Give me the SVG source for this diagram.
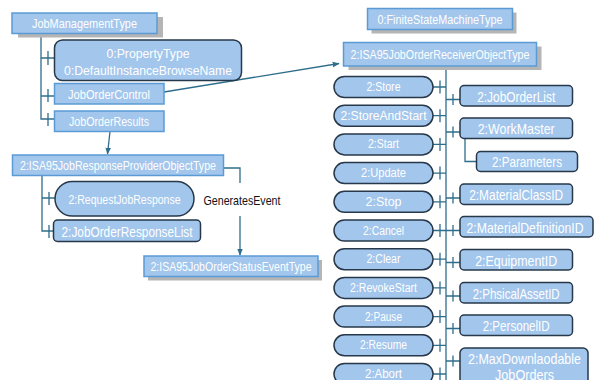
<svg xmlns="http://www.w3.org/2000/svg" width="602" height="380" viewBox="0 0 602 380">
<style>
  .bg{fill:#ffffff}
  .sq{fill:#a3c6ec;stroke:#5b9bd5;stroke-width:1.5}
  .rd{fill:#a3c6ec;stroke:#27384a;stroke-width:1.5}
  .sh{fill:#b5b5b5}
  .t{font-family:"Liberation Sans",Arial,sans-serif;fill:#ffffff;text-anchor:middle;dominant-baseline:central}
  .s13{font-size:13.5px}
  .s12{font-size:12.5px}
  .s15{font-size:15px}
  .ln{fill:none;stroke:#2f6d8c;stroke-width:1.3}
  .lbl{font-family:"Liberation Sans",Arial,sans-serif;font-size:13px;fill:#111111;text-anchor:middle;dominant-baseline:central}
</style>
<defs>
  <marker id="arr" viewBox="0 0 10 10" refX="9" refY="5" markerWidth="7" markerHeight="7" orient="auto" markerUnits="userSpaceOnUse">
    <path d="M0,1 L10,5 L0,9 Z" fill="#2f6d8c"/>
  </marker>
</defs>
<rect class="bg" x="0" y="0" width="602" height="380"/>

<!-- connectors and tree branches -->
<g id="connectors">
  <!-- JobManagementType tree -->
  <path class="ln" d="M41 33 V119 H54.5"/>
  <path class="ln" d="M41 58 H54.5 M48 51 V65"/>
  <path class="ln" d="M41 96 H54.5 M48 89 V102"/>
  <path class="ln" d="M48 113 V126"/>
  <!-- references -->
  <path class="ln" d="M164 92 L339 63.5" marker-end="url(#arr)"/>
  <path class="ln" d="M110 131.5 L107.5 154" marker-end="url(#arr)"/>
  <!-- response provider tree -->
  <path class="ln" d="M42 175.5 V231 H53.5"/>
  <path class="ln" d="M42 198 H55 M49 192 V205"/>
  <path class="ln" d="M49 225 V238"/>
  <!-- GeneratesEvent -->
  <path class="ln" d="M223.5 168 H240 V183"/>
  <path class="ln" d="M240 216 V255" marker-end="url(#arr)"/>
  <!-- receiver trunk -->
  <path class="ln" d="M446 66 V380"/>
  <!-- method ticks -->
  <path class="ln" d="M433 87 H446 M440 80.5 V93.5"/>
  <path class="ln" d="M433 115.7 H446 M440 109.2 V122.2"/>
  <path class="ln" d="M433 144.4 H446 M440 137.9 V150.9"/>
  <path class="ln" d="M433 173.1 H446 M440 166.6 V179.6"/>
  <path class="ln" d="M433 201.8 H446 M440 195.3 V208.3"/>
  <path class="ln" d="M433 230.5 H446 M440 224 V237"/>
  <path class="ln" d="M433 259.2 H446 M440 252.7 V265.7"/>
  <path class="ln" d="M433 287.9 H446 M440 281.4 V294.4"/>
  <path class="ln" d="M433 316.6 H446 M440 310.1 V323.1"/>
  <path class="ln" d="M433 345.3 H446 M440 338.8 V351.8"/>
  <path class="ln" d="M433 374 H446 M440 367.5 V380"/>
  <!-- property ticks -->
  <path class="ln" d="M446 99.5 H460 M453 94 V105"/>
  <path class="ln" d="M446 132 H460 M453 126.5 V137.5"/>
  <path class="ln" d="M465 138.5 V161.5 H476.5"/>
  <path class="ln" d="M446 198 H460 M453 192.5 V203.5"/>
  <path class="ln" d="M446 230.5 H460 M453 225 V236"/>
  <path class="ln" d="M446 262.5 H460 M453 257 V268"/>
  <path class="ln" d="M446 296 H460 M453 290.5 V301.5"/>
  <path class="ln" d="M446 328.5 H460 M453 323 V334"/>
  <path class="ln" d="M446 361 H460 M453 355.5 V366.5"/>
  <text class="lbl" x="242" y="200" textLength="77" lengthAdjust="spacingAndGlyphs">GeneratesEvent</text>
</g>

<!-- left side nodes -->
<g id="JobManagementType">
  <rect class="sh" x="18" y="17" width="145" height="20.5"/>
  <rect class="sq" x="12" y="13" width="145" height="20.5"/>
  <text class="t s13" x="84.5" y="23.5" textLength="105" lengthAdjust="spacingAndGlyphs">JobManagementType</text>
</g>
<g id="PropertyType">
  <rect class="rd" x="54.5" y="40" width="187" height="40.5" rx="8"/>
  <text class="t s13" x="148" y="53" textLength="83" lengthAdjust="spacingAndGlyphs">0:PropertyType</text>
  <text class="t s13" x="148" y="70" textLength="168" lengthAdjust="spacingAndGlyphs">0:DefaultInstanceBrowseName</text>
</g>
<g id="JobOrderControl">
  <rect class="sq" x="54.5" y="83.5" width="109.5" height="20.5"/>
  <text class="t s13" x="109" y="94" textLength="82" lengthAdjust="spacingAndGlyphs">JobOrderControl</text>
</g>
<g id="JobOrderResults">
  <rect class="sq" x="54.5" y="111" width="109.5" height="20.5"/>
  <text class="t s13" x="109" y="121.5" textLength="80" lengthAdjust="spacingAndGlyphs">JobOrderResults</text>
</g>
<g id="ResponseProvider">
  <rect class="sq" x="12.5" y="155" width="211" height="20.5"/>
  <text class="t s13" x="118" y="165.5" textLength="196" lengthAdjust="spacingAndGlyphs">2:ISA95JobResponseProviderObjectType</text>
</g>
<g id="RequestJobResponse">
  <rect class="rd" x="55" y="181.5" width="139" height="34.5" rx="17.25"/>
  <text class="t s13" x="124.5" y="199" textLength="112" lengthAdjust="spacingAndGlyphs">2:RequestJobResponse</text>
</g>
<g id="JobOrderResponseList">
  <rect class="rd" x="53.5" y="220" width="147" height="21.5" rx="4"/>
  <text class="t s15" x="127" y="231" textLength="131" lengthAdjust="spacingAndGlyphs">2:JobOrderResponseList</text>
</g>
<g id="StatusEventType">
  <rect class="sh" x="148" y="260" width="174" height="20.5"/>
  <rect class="sq" x="144" y="256" width="174" height="20.5"/>
  <text class="t s13" x="231" y="266.5" textLength="161" lengthAdjust="spacingAndGlyphs">2:ISA95JobOrderStatusEventType</text>
</g>

<!-- right side nodes -->
<g id="FiniteStateMachineType">
  <rect class="sh" x="371.5" y="12.5" width="145" height="21"/>
  <rect class="sq" x="367.5" y="8.5" width="145" height="21"/>
  <text class="t s13" x="440" y="19" textLength="125" lengthAdjust="spacingAndGlyphs">0:FiniteStateMachineType</text>
</g>
<g id="ReceiverObjectType">
  <rect class="sh" x="348.5" y="46.5" width="193" height="23.5"/>
  <rect class="sq" x="343.5" y="42.5" width="193" height="23.5"/>
  <text class="t s13" x="440" y="54.5" textLength="179" lengthAdjust="spacingAndGlyphs">2:ISA95JobOrderReceiverObjectType</text>
</g>

<g id="Store"><rect class="rd" x="334" y="76.5" width="99" height="21" rx="10.5"/><text class="t s12" x="383.5" y="87" textLength="34" lengthAdjust="spacingAndGlyphs">2:Store</text></g>
<g id="StoreAndStart"><rect class="rd" x="334" y="105.2" width="99" height="21" rx="10.5"/><text class="t s12" x="383.5" y="115.7" textLength="86" lengthAdjust="spacingAndGlyphs">2:StoreAndStart</text></g>
<g id="Start"><rect class="rd" x="334" y="133.9" width="99" height="21" rx="10.5"/><text class="t s12" x="383.5" y="144.4" textLength="31" lengthAdjust="spacingAndGlyphs">2:Start</text></g>
<g id="Update"><rect class="rd" x="334" y="162.6" width="99" height="21" rx="10.5"/><text class="t s12" x="383.5" y="173.1" textLength="45" lengthAdjust="spacingAndGlyphs">2:Update</text></g>
<g id="Stop"><rect class="rd" x="334" y="191.3" width="99" height="21" rx="10.5"/><text class="t s12" x="383.5" y="201.8" textLength="36" lengthAdjust="spacingAndGlyphs">2:Stop</text></g>
<g id="Cancel"><rect class="rd" x="334" y="220" width="99" height="21" rx="10.5"/><text class="t s12" x="383.5" y="230.5" textLength="41" lengthAdjust="spacingAndGlyphs">2:Cancel</text></g>
<g id="Clear"><rect class="rd" x="334" y="248.7" width="99" height="21" rx="10.5"/><text class="t s12" x="383.5" y="259.2" textLength="34" lengthAdjust="spacingAndGlyphs">2:Clear</text></g>
<g id="RevokeStart"><rect class="rd" x="334" y="277.4" width="99" height="21" rx="10.5"/><text class="t s12" x="383.5" y="287.9" textLength="67" lengthAdjust="spacingAndGlyphs">2:RevokeStart</text></g>
<g id="Pause"><rect class="rd" x="334" y="306.1" width="99" height="21" rx="10.5"/><text class="t s12" x="383.5" y="316.6" textLength="37" lengthAdjust="spacingAndGlyphs">2:Pause</text></g>
<g id="Resume"><rect class="rd" x="334" y="334.8" width="99" height="21" rx="10.5"/><text class="t s12" x="383.5" y="345.3" textLength="47" lengthAdjust="spacingAndGlyphs">2:Resume</text></g>
<g id="Abort"><rect class="rd" x="334" y="363.5" width="99" height="21" rx="10.5"/><text class="t s12" x="383.5" y="373.5" textLength="37" lengthAdjust="spacingAndGlyphs">2:Abort</text></g>

<g id="JobOrderList"><rect class="rd" x="460" y="85.5" width="112.5" height="20.5" rx="4"/><text class="t s15" x="516.2" y="96" textLength="78" lengthAdjust="spacingAndGlyphs">2:JobOrderList</text></g>
<g id="WorkMaster"><rect class="rd" x="460" y="118" width="112.5" height="20.5" rx="4"/><text class="t s15" x="516.2" y="128.5" textLength="77" lengthAdjust="spacingAndGlyphs">2:WorkMaster</text></g>
<g id="Parameters"><rect class="rd" x="476.5" y="151.5" width="101" height="20" rx="4"/><text class="t s15" x="527" y="161.5" textLength="70" lengthAdjust="spacingAndGlyphs">2:Parameters</text></g>
<g id="MaterialClassID"><rect class="rd" x="460" y="184" width="112.5" height="20.5" rx="4"/><text class="t s15" x="516.2" y="194.5" textLength="94" lengthAdjust="spacingAndGlyphs">2:MaterialClassID</text></g>
<g id="MaterialDefinitionID"><rect class="rd" x="460" y="216.5" width="133" height="20.5" rx="4"/><text class="t s15" x="525" y="227" textLength="117" lengthAdjust="spacingAndGlyphs">2:MaterialDefinitionID</text></g>
<g id="EquipmentID"><rect class="rd" x="460" y="249.5" width="112.5" height="20.5" rx="4"/><text class="t s15" x="516.2" y="260" textLength="82" lengthAdjust="spacingAndGlyphs">2:EquipmentID</text></g>
<g id="PhsicalAssetID"><rect class="rd" x="460" y="282.5" width="112.5" height="20.5" rx="4"/><text class="t s15" x="516.2" y="293" textLength="87" lengthAdjust="spacingAndGlyphs">2:PhsicalAssetID</text></g>
<g id="PersonelID"><rect class="rd" x="460" y="315" width="112.5" height="20.5" rx="4"/><text class="t s15" x="516.2" y="325.5" textLength="67" lengthAdjust="spacingAndGlyphs">2:PersonelID</text></g>
<g id="MaxDownloadable"><rect class="rd" x="460" y="348" width="128" height="42" rx="5"/><text class="t s15" x="524.5" y="358.5" textLength="113" lengthAdjust="spacingAndGlyphs">2:MaxDownlaodable</text><text class="t s15" x="524.5" y="374.5" textLength="59" lengthAdjust="spacingAndGlyphs">JobOrders</text></g>
</svg>
